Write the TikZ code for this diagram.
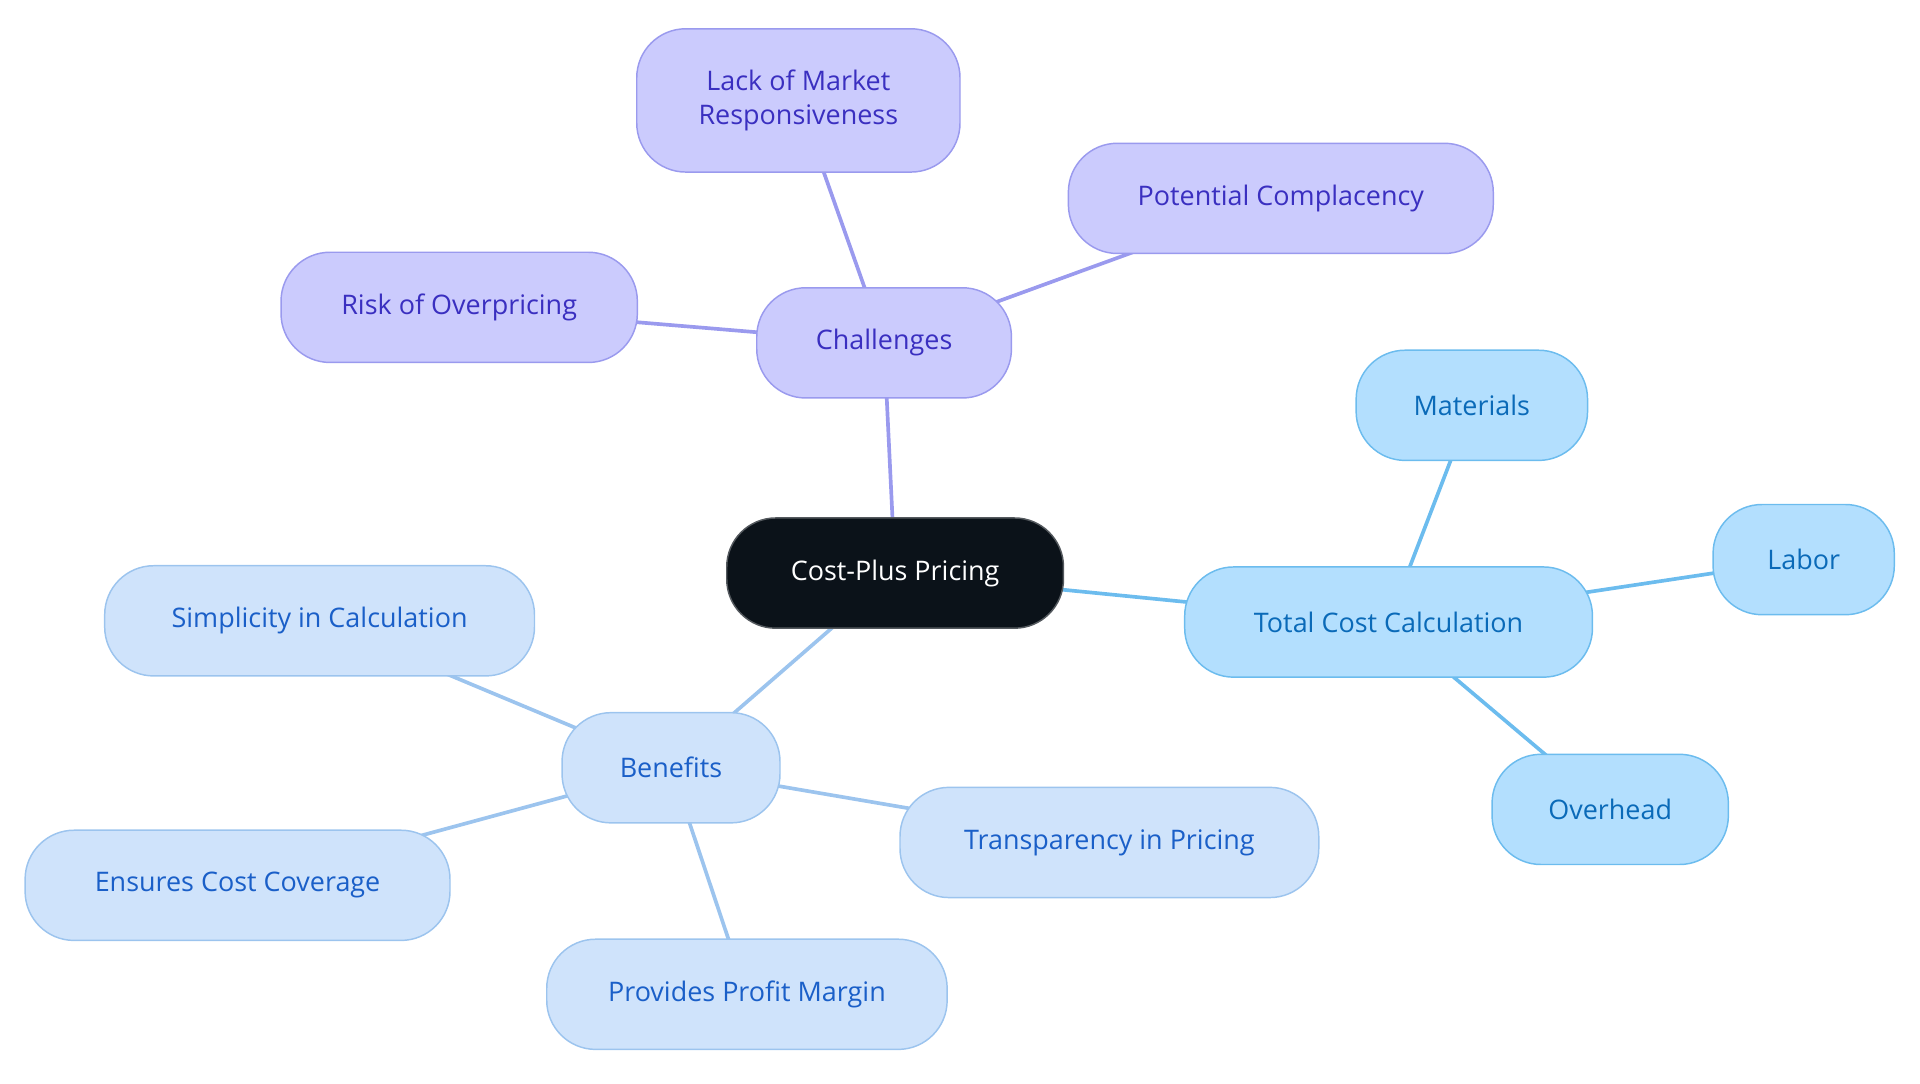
\documentclass[tikz,border=0pt]{standalone}
\usepackage{fontspec}
\setmainfont{Open Sans}
\pgfdeclarelayer{bg}\pgfsetlayers{bg,main}
\definecolor{cfill}{HTML}{CBCBFD}\definecolor{cdraw}{HTML}{9A9AEE}\definecolor{ctext}{HTML}{3A2FC0}
\definecolor{tfill}{HTML}{B3DFFE}\definecolor{tdraw}{HTML}{6CBCEE}\definecolor{ttext}{HTML}{0A6AB8}
\definecolor{bfill}{HTML}{CFE3FB}\definecolor{bdraw}{HTML}{9CC4EE}\definecolor{btext}{HTML}{1A5FC8}
\definecolor{dark}{HTML}{0B1219}
\tikzset{
 x=0.5pt,y=-0.5pt,
 box/.style={rounded corners=20pt,minimum height=45pt,line width=0.6pt,align=center,font=\fontsize{11}{13.5}\selectfont,inner sep=0pt},
 chal/.style={box,fill=cfill,draw=cdraw,text=ctext},
 tot/.style={box,fill=tfill,draw=tdraw,text=ttext},
 ben/.style={box,fill=bfill,draw=bdraw,text=btext},
 root/.style={box,fill=dark,draw=dark!70,text=white},
 ce/.style={draw=cdraw,line width=1.5pt},
 te/.style={draw=tdraw,line width=1.5pt},
 be/.style={draw=bdraw,line width=1.5pt}
}
\begin{document}
\begin{tikzpicture}
\useasboundingbox (0,0) rectangle (1568,885);
\node[root,minimum width=137.5pt] (c) at (731,468) {Cost-Plus Pricing};
\node[chal,minimum width=104pt] (ch) at (722,280) {Challenges};
\node[chal,minimum width=132pt,minimum height=58.5pt] (lm) at (652,82) {Lack of Market\\Responsiveness};
\node[chal,minimum width=173.5pt] (pc) at (1046,162) {Potential Complacency};
\node[chal,minimum width=145.5pt] (ro) at (375,251) {Risk of Overpricing};
\node[tot,minimum width=166.5pt] (tc) at (1134,508) {Total Cost Calculation};
\node[tot,minimum width=94.5pt] (ma) at (1202,331) {Materials};
\node[tot,minimum width=74pt] (la) at (1473,457) {Labor};
\node[tot,minimum width=96.5pt] (ov) at (1315,661) {Overhead};
\node[ben,minimum width=89pt] (be) at (548,627) {Benefits};
\node[ben,minimum width=175.5pt] (si) at (261,507) {Simplicity in Calculation};
\node[ben,minimum width=171pt] (tp) at (906,688) {Transparency in Pricing};
\node[ben,minimum width=173.5pt] (ec) at (194,723) {Ensures Cost Coverage};
\node[ben,minimum width=163.5pt] (pp) at (610,812) {Provides Profit Margin};
\begin{pgfonlayer}{bg}
\draw[ce] (c.center)--(ch.center);
\draw[ce] (ch.center)--(lm.center);
\draw[ce] (ch.center)--(pc.center);
\draw[ce] (ch.center)--(ro.center);
\draw[te] (c.center)--(tc.center);
\draw[te] (tc.center)--(ma.center);
\draw[te] (tc.center)--(la.center);
\draw[te] (tc.center)--(ov.center);
\draw[be] (c.center)--(be.center);
\draw[be] (be.center)--(si.center);
\draw[be] (be.center)--(tp.center);
\draw[be] (be.center)--(ec.center);
\draw[be] (be.center)--(pp.center);
\end{pgfonlayer}
\end{tikzpicture}
\end{document}
